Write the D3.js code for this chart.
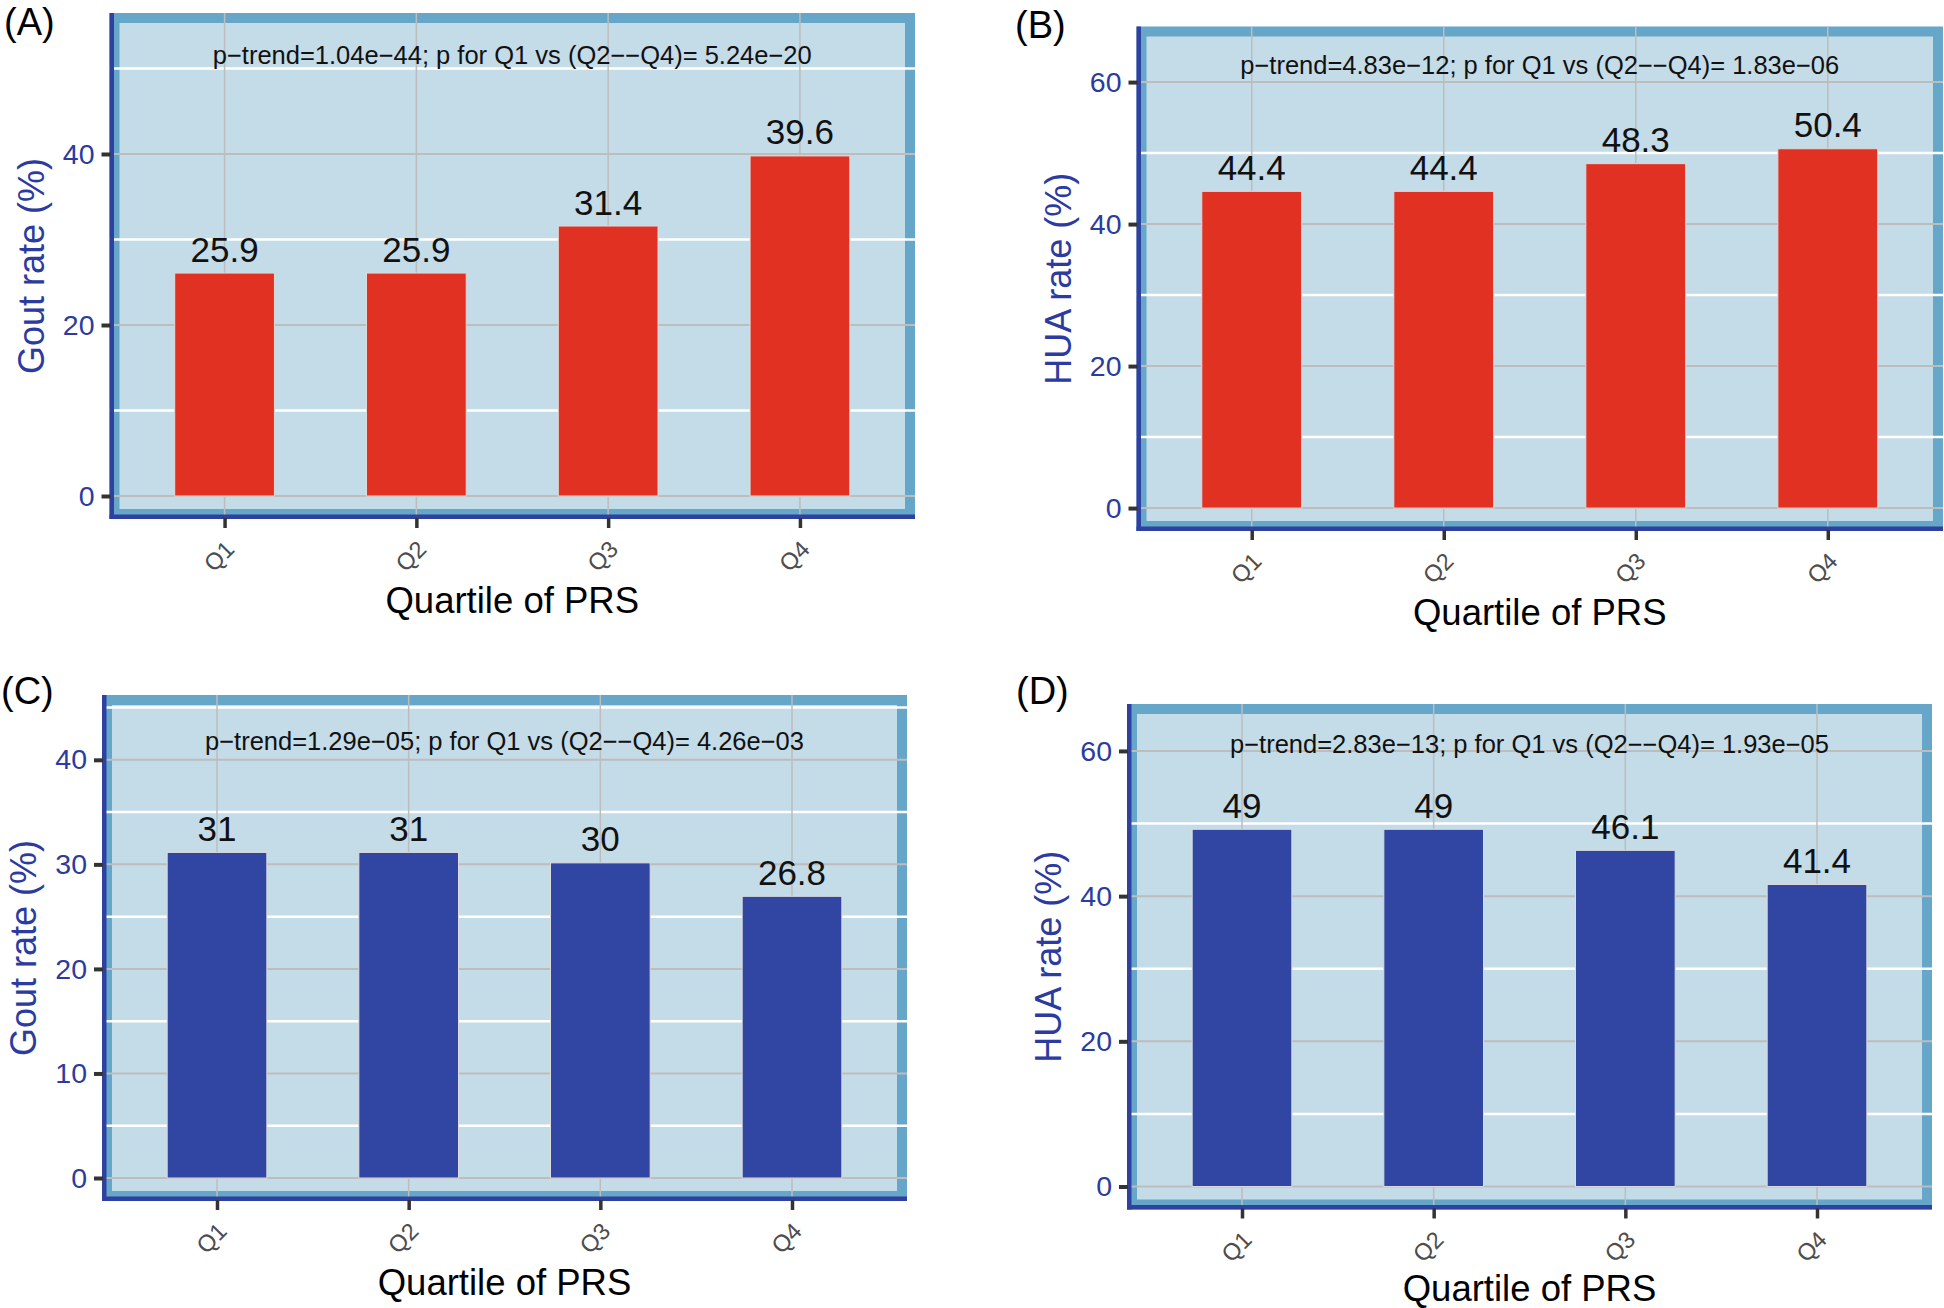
<!DOCTYPE html>
<html>
<head>
<meta charset="utf-8">
<script src="https://cdn.jsdelivr.net/npm/d3@7"></script>
<style>
  html, body { margin: 0; padding: 0; background: #ffffff; }
  svg { display: block; font-family: "Liberation Sans", Arial, Helvetica, sans-serif; }
</style>
</head>
<body>
<svg id="chart" width="1944" height="1308"></svg>
<script>
// ---------------- data ----------------
const categories = ["Q1", "Q2", "Q3", "Q4"];
const goutRateA = [25.9, 25.9, 31.4, 39.6];
const huaRateB  = [44.4, 44.4, 48.3, 50.4];
const goutRateC = [31, 31, 30, 26.8];
const huaRateD  = [49, 49, 46.1, 41.4];
const yTicksA = [0, 20, 40];
const yTicksB = [0, 20, 40, 60];
const yTicksC = [0, 10, 20, 30, 40];
const yTicksD = [0, 20, 40, 60];
const minorTicksA = [10, 30, 50];
const minorTicksB = [10, 30, 50];
const minorTicksC = [5, 15, 25, 35, 45];
const minorTicksD = [10, 30, 50];
const pTextA = "p\u2212trend=1.04e\u221244; p for Q1 vs (Q2\u2212\u2212Q4)= 5.24e\u221220";
const pTextB = "p\u2212trend=4.83e\u221212; p for Q1 vs (Q2\u2212\u2212Q4)= 1.83e\u221206";
const pTextC = "p\u2212trend=1.29e\u221205; p for Q1 vs (Q2\u2212\u2212Q4)= 4.26e\u221203";
const pTextD = "p\u2212trend=2.83e\u221213; p for Q1 vs (Q2\u2212\u2212Q4)= 1.93e\u221205";
const panelTags = ["(A)", "(B)", "(C)", "(D)"];
const yTitles = ["Gout rate (%)", "HUA rate (%)", "Gout rate (%)", "HUA rate (%)"];
const xTitle = "Quartile of PRS";

// ---------------- layout / style ----------------
const RED = "#e03123", BLUE = "#3146a2";
const FILL = "#c4dbe8", BORDER = "#66a6c9", AXISLINE = "#2f41a0", TICKTXT = "#2b3ba0";

const panels = [
  { values: goutRateA, color: RED,  ticks: yTicksA, minor: minorTicksA, yMax: 53.8, pText: pTextA, pY: 50.5,
    box: { x0: 109.5, x1: 915,  y0: 13,   y1: 519 },  tag: { x: 4,    y: 35 },  xtY: 94 },
  { values: huaRateB,  color: RED,  ticks: yTicksB, minor: minorTicksB, yMax: 64.6, pText: pTextB, pY: 61.1,
    box: { x0: 1136.5, x1: 1943, y0: 26.5, y1: 531 },  tag: { x: 1015, y: 38 },  xtY: 94 },
  { values: goutRateC, color: BLUE, ticks: yTicksC, minor: minorTicksC, yMax: 44,   pText: pTextC, pY: 40.9,
    box: { x0: 102,  x1: 907,  y0: 695,  y1: 1201 }, tag: { x: 1,    y: 704 }, xtY: 94 },
  { values: huaRateD,  color: BLUE, ticks: yTicksD, minor: minorTicksD, yMax: 63.3, pText: pTextD, pY: 59.7,
    box: { x0: 1127, x1: 1932, y0: 704,  y1: 1209.5 }, tag: { x: 1016, y: 704 }, xtY: 91 }
];

const svg = d3.select("#chart");

panels.forEach((p, i) => {
  const { x0, x1, y0, y1 } = p.box;
  const g = svg.append("g");

  const x = d3.scalePoint().domain(categories).range([x0, x1]).padding(0.6);
  const y = d3.scaleLinear().domain([-0.05 * p.yMax, 1.05 * p.yMax]).range([y1, y0]);
  const bw = x.step() * 0.52;
  const bd = 10;

  // panel border + fill
  g.append("rect").attr("x", x0).attr("y", y0).attr("width", x1 - x0).attr("height", y1 - y0).attr("fill", BORDER);
  g.append("rect").attr("x", x0 + bd).attr("y", y0 + bd).attr("width", x1 - x0 - 2 * bd).attr("height", y1 - y0 - 2 * bd).attr("fill", FILL);

  // minor (white) grid
  g.selectAll(".minor").data(p.minor).join("line")
    .attr("x1", x0).attr("x2", x1).attr("y1", d => y(d)).attr("y2", d => y(d))
    .attr("stroke", "#ffffff").attr("stroke-width", 2.5);
  // major grid
  g.selectAll(".major").data(p.ticks).join("line")
    .attr("x1", x0).attr("x2", x1).attr("y1", d => y(d)).attr("y2", d => y(d))
    .attr("stroke", "#bdbdbd").attr("stroke-width", 2);
  g.selectAll(".vgrid").data(categories).join("line")
    .attr("x1", d => x(d)).attr("x2", d => x(d)).attr("y1", y0).attr("y2", y1)
    .attr("stroke", "#bdbdbd").attr("stroke-width", 1.5);

  // bars
  g.selectAll(".bar").data(p.values).join("rect")
    .attr("x", (d, j) => x(categories[j]) - bw / 2)
    .attr("y", d => y(d) - 1.5)
    .attr("width", bw)
    .attr("height", d => y(0) - y(d) + 1.5)
    .attr("fill", p.color)
    .attr("stroke", "#dcdcdc").attr("stroke-width", 1);

  // bar labels
  g.selectAll(".blab").data(p.values).join("text")
    .attr("x", (d, j) => x(categories[j]))
    .attr("y", d => y(d) - 13)
    .attr("text-anchor", "middle")
    .attr("font-size", 35)
    .attr("fill", "#111")
    .text(d => String(d));

  // p text
  g.append("text")
    .attr("x", (x0 + x1) / 2).attr("y", y(p.pY))
    .attr("text-anchor", "middle").attr("font-size", 25.5).attr("fill", "#111")
    .text(p.pText);

  // axis lines (left & bottom)
  g.append("rect").attr("x", x0).attr("y", y0).attr("width", 4.5).attr("height", y1 - y0).attr("fill", AXISLINE);
  g.append("rect").attr("x", x0).attr("y", y1 - 4.5).attr("width", x1 - x0).attr("height", 4.5).attr("fill", AXISLINE);

  // y axis
  const ya = g.append("g").attr("transform", `translate(${x0 + 1},0)`)
    .call(d3.axisLeft(y).tickValues(p.ticks).tickSize(9).tickPadding(7).tickFormat(d3.format("d")));
  ya.select(".domain").remove();
  ya.selectAll(".tick line").attr("stroke", "#333").attr("stroke-width", 4);
  ya.selectAll(".tick text").attr("fill", TICKTXT).attr("font-size", 28.5)
    .attr("font-family", "'Liberation Sans', Arial, Helvetica, sans-serif");

  // x axis
  const xa = g.append("g").attr("transform", `translate(0,${y1 - 1})`)
    .call(d3.axisBottom(x).tickSize(10));
  xa.select(".domain").remove();
  xa.selectAll(".tick line").attr("stroke", "#333").attr("stroke-width", 3.5);
  xa.selectAll(".tick text")
    .attr("x", 0).attr("y", 0).attr("dy", "0.71em")
    .attr("text-anchor", "end")
    .attr("transform", "translate(-1,21) rotate(-45)")
    .attr("fill", "#4d4d4d").attr("font-size", 23.5)
    .attr("font-family", "'Liberation Sans', Arial, Helvetica, sans-serif");

  // titles
  g.append("text")
    .attr("transform", `translate(${x0 - 66},${(y0 + y1) / 2}) rotate(-90)`)
    .attr("text-anchor", "middle").attr("font-size", 36).attr("fill", TICKTXT)
    .text(yTitles[i]);
  g.append("text")
    .attr("x", (x0 + x1) / 2).attr("y", y1 + p.xtY)
    .attr("text-anchor", "middle").attr("font-size", 36.5).attr("fill", "#000")
    .text(xTitle);

  // panel tag
  svg.append("text").attr("x", p.tag.x).attr("y", p.tag.y)
    .attr("font-size", 38).attr("fill", "#000").text(panelTags[i]);
});
</script>
</body>
</html>
